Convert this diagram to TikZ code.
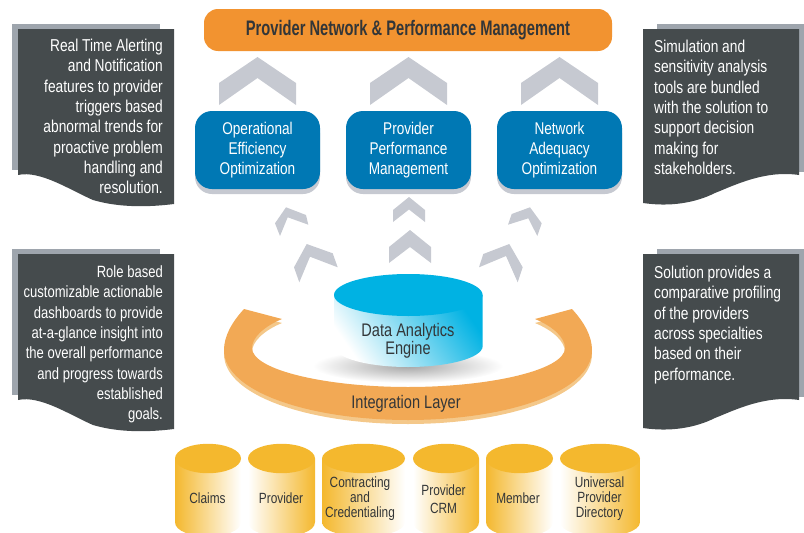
\documentclass[tikz,border=0pt]{standalone}
\usepackage{fontspec}
\usepackage{tikz}
\usetikzlibrary{positioning}
\newfontfamily\condfont[FakeStretch=0.8]{Liberation Sans}
\newfontfamily\titlefont[FakeStretch=0.7]{Liberation Sans}
\definecolor{panelDark}{HTML}{454B4D}
\definecolor{panelBack}{HTML}{9EA5AD}
\definecolor{chevronGray}{HTML}{C6C9D1}
\definecolor{titleOrange}{HTML}{F29330}
\definecolor{optBlue}{HTML}{0078B4}
\definecolor{ringOrange}{HTML}{F2A955}
\definecolor{ringLight}{HTML}{F4C88A}
\definecolor{engineCyan}{HTML}{00B2E3}
\definecolor{storeYellow}{HTML}{F4B82E}
\definecolor{textDark}{HTML}{333638}

\begin{document}
\begin{tikzpicture}[
        x=1pt, y=-1pt, % pixel grid of the picture
        chevron/.style={fill=chevronGray}, % grey arrow marks
        paneltext/.style={
            text=white,
            inner sep=0,
            font=\condfont\fontsize{17.2}{20.3}\selectfont % panel text
        },
        optbox/.style={
            rectangle,
            rounded corners=17,
            fill=optBlue,
            text=white,
            minimum width=125,
            minimum height=78,
            align=center,
            inner sep=0,
            font=\condfont\fontsize{17}{20}\selectfont
        },
        storetext/.style={
            text=textDark,
            align=center,
            inner sep=0,
            font=\condfont\fontsize{14.8}{15}\selectfont
        }
    ]
    \useasboundingbox (0,0) rectangle (804,533);

    % title bar
    \node(title) at (408,30) [
        rectangle, rounded corners=14, fill=titleOrange, text=textDark,
        minimum width=408, minimum height=42, inner sep=0,
        font=\titlefont\bfseries\fontsize{21}{24}\selectfont
    ] {Provider Network \& Performance Management};

    % large chevrons and blue boxes
    \foreach \x/\name/\txt in {
        257.5/opt/Operational\\Efficiency\\Optimization,
        408.5/perf/Provider\\Performance\\Management,
        559.5/net/Network\\Adequacy\\Optimization} {
        \fill[chevron] (\x,57) -- ++(38.5,26) -- ++(0,22) -- ++(-38.5,-27)
            -- ++(-38.5,27) -- ++(0,-22) -- cycle;
        \fill[chevronGray, rounded corners=17] (\x-62.5,116) rectangle (\x+62.5,194);
        \node(\name) at (\x,150) [optbox] {\txt};
    }

    % small chevrons
    \fill[chevron] (409,197) -- (425,210) -- (425,222) -- (409,209.5) -- (393,222) -- (393,210) -- cycle;
    \fill[chevron] (410,230) -- (431,247) -- (431,263) -- (410,247) -- (389,263) -- (389,247) -- cycle;
    \fill[chevron] (286,207.3) -- (306,215) -- (308.3,224.7) -- (287.7,217.3) -- (280,236) -- (275,223.3) -- cycle;
    \fill[chevron] (306.7,244) -- (332.7,253.3) -- (337.7,267.3) -- (310,256.7) -- (299.3,282.3) -- (294,267.3) -- cycle;
    \fill[chevron] (509.3,244) -- (522.7,267.3) -- (517.7,282.3) -- (506,256) -- (479,267.3) -- (483.3,254) -- cycle;
    \fill[chevron] (530,207.3) -- (541.7,223.3) -- (537.3,236) -- (528.3,218.3) -- (508,224.7) -- (511.7,214) -- cycle;

    % left panels
    \foreach \dy in {0,225} {
        \begin{scope}[yshift=-\dy]
            \fill[panelBack] (12,24) rectangle (160,170);
            \fill[panelDark] (18,29) -- (174,29) -- (174,204)
                .. controls (150,207) and (120,208) .. (93,200)
                .. controls (70,190) and (40,170) .. (18,175) -- cycle;
        \end{scope}
    }
    % right panels
    \foreach \dy in {0,225} {
        \begin{scope}[yshift=-\dy]
            \fill[panelBack] (657,24) rectangle (804,172);
            \fill[panelDark] (643,29) -- (799,29) -- (799,175)
                .. controls (765,170) and (735,185) .. (715,193)
                .. controls (695,203) and (670,207) .. (643,203) -- cycle;
        \end{scope}
    }

    \node(alerting) at (163,39) [paneltext, anchor=north east, align=right]
        {Real Time Alerting\\and Notification\\features to provider\\triggers based\\abnormal trends for\\proactive problem\\handling and\\resolution.};
    \node(dashboards) at (163,265.5) [paneltext, anchor=north east, align=right,
        font=\condfont\fontsize{16.3}{20.3}\selectfont]
        {Role based\\customizable actionable\\dashboards to provide\\at-a-glance insight into\\the overall performance\\and progress towards\\established\\goals.};
    \node(simulation) at (654,40) [paneltext, anchor=north west, align=left]
        {Simulation and\\sensitivity analysis\\tools are bundled\\with the solution to\\support decision\\making for\\stakeholders.};
    \node(profiling) at (654,266) [paneltext, anchor=north west, align=left]
        {Solution provides a\\comparative profiling\\of the providers\\across specialties\\based on their\\performance.};

    % integration ring, lighter copy gives the edge
    \foreach \col/\dy in {ringLight/4, ringOrange/0} {
        \fill[\col, yshift=-\dy] (244,309)
            .. controls (232,322) and (224,336) .. (224,350)
            .. controls (224,392) and (310,420) .. (408,420)
            .. controls (506,420) and (592,392) .. (592,350)
            .. controls (592,336) and (584,322) .. (572,309)
            -- (535,319)
            .. controls (552,326) and (565,337) .. (565,348)
            .. controls (565,370) and (490,387) .. (408,387)
            .. controls (326,387) and (252,370) .. (252,348)
            .. controls (252,337) and (265,326) .. (282,319)
            -- cycle;
    }
    \node(integration) at (406,404) [text=textDark, inner sep=0,
        font=\condfont\fontsize{18.2}{20}\selectfont] {Integration Layer};

    % engine
    \shade[inner color=black!35, outer color=white] (408,366) ellipse (95 and 17);
    \shade[left color=white, middle color=engineCyan!35, right color=engineCyan, shading angle=125]
        (334,295) -- (334,346) .. controls (334,358) and (368,367) .. (408,367)
        .. controls (448,367) and (482.7,358) .. (482.7,346) -- (482.7,295) -- cycle;
    \fill[engineCyan] (408.3,295) ellipse (74.3 and 21);
    \node(engine) at (408,341) [text=textDark, align=center, inner sep=0,
        font=\condfont\fontsize{18.2}{18.5}\selectfont] {Data Analytics\\Engine};

    % source stores
    \foreach \xa/\xb/\lcol/\rcol in {
        175/241/storeYellow/white,
        248/315/white/storeYellow,
        322/405/storeYellow/white,
        413/479/white/storeYellow,
        486/553/storeYellow/white,
        560/640/white/storeYellow} {
        \shade[left color=\lcol, right color=\rcol]
            (\xa,458.5) -- (\xa,522) .. controls (\xa,541) and (\xb,541) .. (\xb,522) -- (\xb,458.5) -- cycle;
        \fill[storeYellow] ({(\xa+\xb)/2},458.5) ellipse ({(\xb-\xa)/2} and 14.7);
    }
    \node(claims) at (207.5,498.5) [storetext] {Claims};
    \node(provider) at (281,498.5) [storetext] {Provider};
    \node(contracting) at (360,499) [storetext] {Contracting\\and\\Credentialing};
    \node(crm) at (443.5,499) [storetext, font=\condfont\fontsize{14.8}{17.5}\selectfont] {Provider\\CRM};
    \node(member) at (518,498.5) [storetext] {Member};
    \node(directory) at (599.5,499) [storetext] {Universal\\Provider\\Directory};
\end{tikzpicture}
\end{document}
